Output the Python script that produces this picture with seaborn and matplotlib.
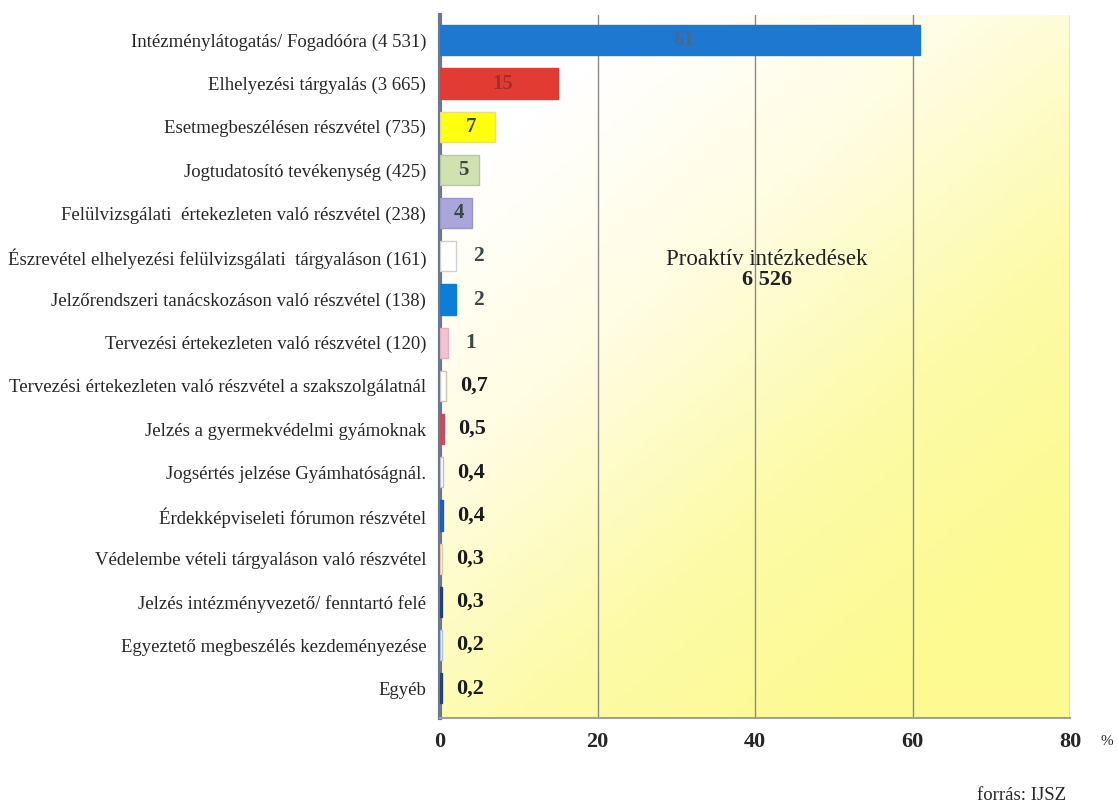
import numpy as np
import pandas as pd
import matplotlib
matplotlib.use('Agg')
import matplotlib.pyplot as plt
import seaborn as sns
from matplotlib.colors import LinearSegmentedColormap

sns.set_style('white')
plt.rcParams['font.family'] = ['Liberation Serif', 'DejaVu Serif']

# Data
categories = [
    'Intézménylátogatás/ Fogadóóra (4 531)',
    'Elhelyezési tárgyalás (3 665)',
    'Esetmegbeszélésen részvétel (735)',
    'Jogtudatosító tevékenység (425)',
    'Felülvizsgálati  értekezleten való részvétel (238)',
    'Észrevétel elhelyezési felülvizsgálati  tárgyaláson (161)',
    'Jelzőrendszeri tanácskozáson való részvétel (138)',
    'Tervezési értekezleten való részvétel (120)',
    'Tervezési értekezleten való részvétel a szakszolgálatnál',
    'Jelzés a gyermekvédelmi gyámoknak',
    'Jogsértés jelzése Gyámhatóságnál.',
    'Érdekképviseleti fórumon részvétel',
    'Védelembe vételi tárgyaláson való részvétel',
    'Jelzés intézményvezető/ fenntartó felé',
    'Egyeztető megbeszélés kezdeményezése',
    'Egyéb',
]
values = [61, 15, 7, 5, 4, 2, 2, 1, 0.7, 0.5, 0.4, 0.4, 0.3, 0.3, 0.2, 0.2]
value_labels = ['61', '15', '7', '5', '4', '2', '2', '1',
                '0,7', '0,5', '0,4', '0,4', '0,3', '0,3', '0,2', '0,2']
bar_colors = ['#1f78cf', '#e23b33', '#ffff10', '#cfe2b0', '#aaa6da', '#ffffff',
              '#0c7ed6', '#f4c2d2', '#ffffff', '#c0505a', '#ffffff', '#2060b0',
              '#ffffff', '#24406e', '#ffffff', '#2a4272']
edge_colors = ['#1f78cf', '#e23b33', '#e8e070', '#b8c8a0', '#9a96c8', '#d0d0d0',
               '#0c7ed6', '#e0b0c0', '#c8c8b0', '#c0505a', '#c0c0c8', '#2060b0',
               '#e8c8a8', '#24406e', '#b0c0e0', '#2a4272']
x_ticks = [0, 20, 40, 60, 80]

df = pd.DataFrame({'cat': categories, 'val': values})

fig = plt.figure(figsize=(11.18, 8.05), dpi=100)
ax = fig.add_axes([0.3936, 0.108, 0.5635, 0.873])

# background gradient: white top-left -> yellow bottom-right
gx, gy = np.meshgrid(np.linspace(0, 1, 200), np.linspace(0, 1, 200))
grad = np.clip(0.6 * gx + 0.8 * gy - 0.2, 0, 1)
cmap = LinearSegmentedColormap.from_list('bg', ['#ffffff', '#fffde0', '#fdfba8', '#fcfa90'])
ax.imshow(grad, cmap=cmap, extent=[0, 1, 0, 1], origin='upper', aspect='auto',
          transform=ax.transAxes, zorder=0)

sns.barplot(data=df, x='val', y='cat', hue='cat', palette=bar_colors,
            saturation=1, legend=False, orient='h', width=0.7, ax=ax, zorder=3)

for patch, ec in zip(ax.patches, edge_colors):
    patch.set_edgecolor(ec)
    patch.set_linewidth(1.0)

# value labels
for i, (v, lab) in enumerate(zip(values, value_labels)):
    if v >= 4:
        color = '#4a6888' if i == 0 else ('#a03028' if i == 1 else '#3c4848')
        ax.text(v / 2 + 0.4, i, lab, ha='center', va='center', fontsize=15,
                fontweight='bold', color=color, zorder=5)
    elif v >= 1:
        ax.text(v + 2.2, i, lab, ha='left', va='center', fontsize=15.5,
                fontweight='bold', color='#3c4848', zorder=5)
    else:
        ax.text(v + 1.8, i, lab, ha='left', va='center', fontsize=16,
                fontweight='bold', color='#1a1a1a', zorder=5)

ax.set_xlim(0, 80)
ax.set_ylim(15.69, -0.58)
ax.set_xticks(x_ticks)
ax.set_xticklabels([str(t) for t in x_ticks], fontsize=16, fontweight='bold')
ax.tick_params(axis='x', pad=10, length=0)
ax.tick_params(axis='y', length=0, pad=10, labelsize=13.5)
ax.set_xlabel('')
ax.set_ylabel('')

ax.grid(axis='x', color='#8a8a8a', linewidth=1.0, zorder=1)
ax.set_axisbelow(True)
for s in ['top', 'right']:
    ax.spines[s].set_visible(False)
ax.spines['left'].set_color('#6a7890')
ax.spines['left'].set_linewidth(3)
ax.spines['bottom'].set_color('#a0a0a0')
ax.spines['bottom'].set_linewidth(1.5)

ax.text(41.5, 5.08, 'Proaktív intézkedések', ha='center', va='center',
        fontsize=16.5, color='#222222', zorder=5)
ax.text(41.5, 5.55, '6 526', ha='center', va='center', fontsize=16,
        fontweight='bold', color='#222222', zorder=5)

fig.text(1107 / 1118, 1 - 741 / 805, '%', ha='center', va='center', fontsize=11)
fig.text(1022 / 1118, 1 - 795 / 805, 'forrás: IJSZ', ha='center', va='center',
         fontsize=13.5)

fig.savefig('out.png', dpi=100)
